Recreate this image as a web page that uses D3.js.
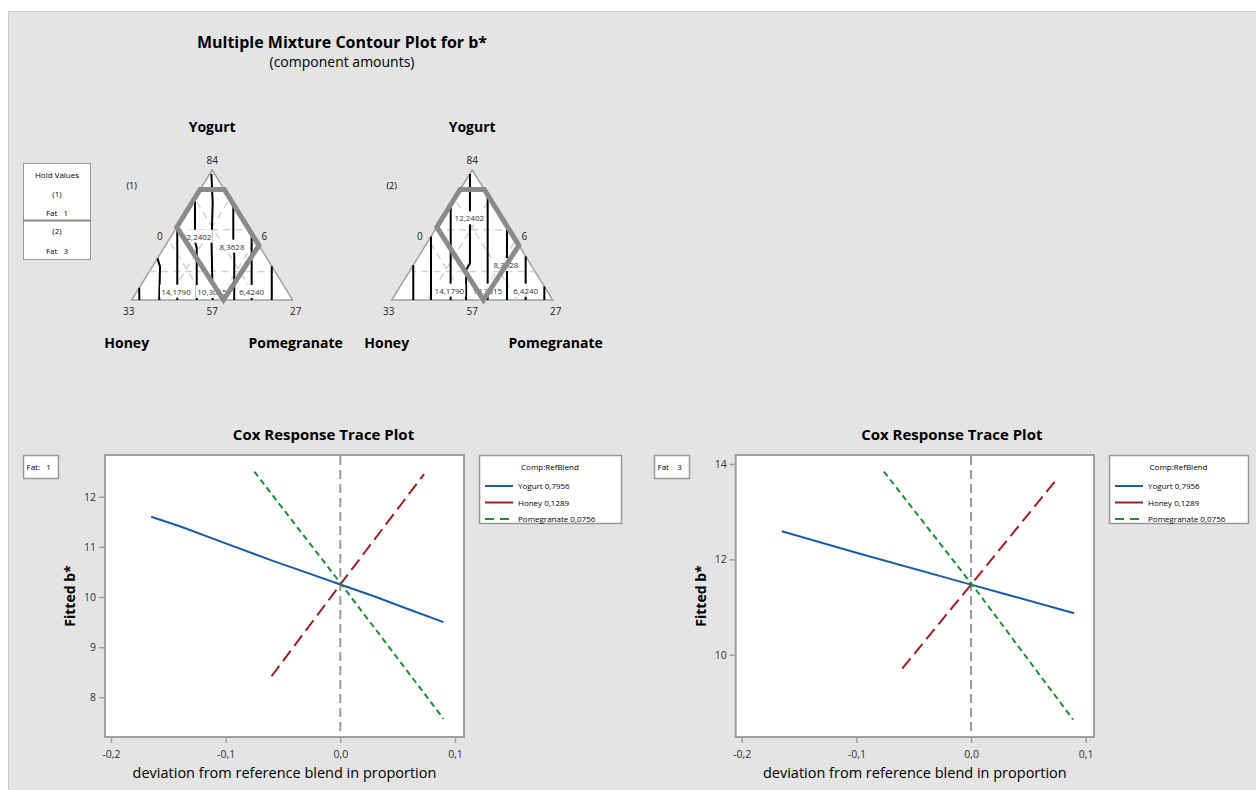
<!DOCTYPE html>
<html>
<head>
<meta charset="utf-8">
<script src="https://cdnjs.cloudflare.com/ajax/libs/d3/7.8.5/d3.min.js"></script>
<style>
  body { margin: 0; background: #fff; }
  svg { display: block; font-family: "Open Sans", "Noto Sans", sans-serif; }
</style>
</head>
<body>
<div id="chart"></div>
<script>
// ---- data ----
var components = ["Yogurt", "Honey", "Pomegranate"];
var refBlend = ["0,7956", "0,1289", "0,0756"];
var fatValues = [1, 3];

// triangle labels (apex, bottom-left, bottom-middle, bottom-right, left-side, right-side)
var triLabels = ["84", "33", "57", "27", "0", "6"];

// feasible region, [Yogurt, Pomegranate] proportions
var region = [[0.85, 0.0], [0.85, 0.15], [0.42, 0.58], [0.0, 0.57], [0.56, 0.0]];

// ternary grid levels
var gridLevels = [0.22, 0.54];

// contour lines, each as [Yogurt, Pomegranate] points
var contours1 = [
  [[0, 0.047], [0.094, 0.0]],
  [[0, 0.171], [0.256, 0.048], [0.32, 0.0]],
  [[0, 0.283], [0.566, 0.0]],
  [[0, 0.404], [0.40, 0.204], [0.45, 0.168], [0.786, 0.0]],
  [[0, 0.503], [0.45, 0.271], [0.75, 0.128], [0.97, 0.01]],
  [[0, 0.637], [0.35, 0.462], [0.40, 0.431], [0.738, 0.262]],
  [[0, 0.745], [0.51, 0.49]],
  [[0, 0.870], [0.26, 0.74]]
];
var contours2 = [
  [[0, 0.134], [0.268, 0.0]],
  [[0, 0.244], [0.488, 0.0]],
  [[0, 0.366], [0.733, 0.0]],
  [[0, 0.462], [0.23, 0.347], [0.282, 0.345], [0.97, 0.001]],
  [[0, 0.596], [0.808, 0.192]],
  [[0, 0.716], [0.568, 0.432]],
  [[0, 0.832], [0.336, 0.664]],
  [[0, 0.948], [0.104, 0.896]]
];
// contour labels: text, Yogurt, Pomegranate
var contourLabels1 = [
  ["14,1790", 0.064, 0.243], ["10,3015", 0.062, 0.468], ["6,4240", 0.062, 0.714],
  ["12,2402", 0.487, 0.160], ["8,3628", 0.41, 0.418]
];
var contourLabels2 = [
  ["12,2402", 0.628, 0.168], ["8,3628", 0.269, 0.575], ["14,1790", 0.072, 0.322],
  ["10,3015", 0.072, 0.558], ["6,4240", 0.072, 0.796]
];

// response trace values [deviation, fitted b*]
var yogurt1 = [[-0.165, 11.6], [-0.14, 11.41], [-0.1, 11.07], [-0.06, 10.73], [-0.03, 10.49], [0, 10.25], [0.03, 10.01], [0.06, 9.75], [0.09, 9.5]];
var honey1 = [[-0.06, 8.42], [0, 10.25], [0.073, 12.45]];
var pomegranate1 = [[-0.075, 12.5], [0, 10.28], [0.09, 7.57]];
var yogurt3 = [[-0.165, 12.59], [-0.1, 12.14], [0, 11.47], [0.09, 10.87]];
var honey3 = [[-0.06, 9.71], [0, 11.47], [0.073, 13.63]];
var pomegranate3 = [[-0.076, 13.84], [0, 11.5], [0.089, 8.64]];

var xTicks = [-0.2, -0.1, 0.0, 0.1];
var yTicks1 = [8, 9, 10, 11, 12];
var yTicks3 = [10, 12, 14];

var colors = ["#1a5aa8", "#a11d21", "#1b8f2e"];
var dashes = [null, "13,6", "6,4"];

// ---- drawing ----
var width = 1256, height = 790;
var svg = d3.select("#chart").append("svg")
    .attr("width", width)
    .attr("height", height);

svg.append("rect")
    .attr("x", 8.5).attr("y", 11.5)
    .attr("width", 1260).attr("height", 790)
    .attr("fill", "#e4e4e4")
    .attr("stroke", "#c8c8c8");

// Minitab style: hyphen minus and decimal comma
var comma = function(v) { return d3.format(".1f")(v).replace(".", ",").replace("\u2212", "-"); };

// titles
svg.append("text")
    .attr("x", 342).attr("y", 48)
    .attr("text-anchor", "middle")
    .style("font-size", "16px").style("font-weight", "bold")
    .text("Multiple Mixture Contour Plot for b*");
svg.append("text")
    .attr("x", 342).attr("y", 67)
    .attr("text-anchor", "middle")
    .style("font-size", "14px")
    .text("(component amounts)");

// hold values box
var hold = svg.append("g");
hold.append("rect")
    .attr("x", 23.5).attr("y", 163.5)
    .attr("width", 67).attr("height", 96)
    .attr("fill", "#fff").attr("stroke", "#999");
hold.append("line")
    .attr("x1", 23.5).attr("x2", 90.5)
    .attr("y1", 220.5).attr("y2", 220.5)
    .attr("stroke", "#888").attr("stroke-width", 2);
var holdText = [["Hold Values", 178], ["(1)", 197], ["Fat   " + fatValues[0], 216], ["(2)", 234], ["Fat   " + fatValues[1], 254]];
hold.selectAll("text").data(holdText).enter().append("text")
    .attr("x", 57).attr("y", function(d) { return d[1]; })
    .attr("text-anchor", "middle")
    .style("font-size", "8px")
    .style("white-space", "pre")
    .attr("xml:space", "preserve")
    .text(function(d) { return d[0]; });

function drawTernary(left, tag, contours, labels) {
  var g = svg.append("g");
  var tw = 161, th = 130, base = 300;
  // horizontal: P + Y/2 across the base, vertical: Y up the height
  var xs = d3.scaleLinear().domain([0, 1]).range([left, left + tw]);
  var ys = d3.scaleLinear().domain([0, 1]).range([base, base - th]);
  var pt = function(Y, P) { return [xs(P + Y / 2), ys(Y)]; };
  var line = d3.line();

  g.append("path")
      .attr("d", line([pt(1, 0), pt(0, 0), pt(0, 1)]) + "Z")
      .attr("fill", "#fff")
      .attr("stroke", "#a0a0a0").attr("stroke-width", 1.5);

  // grid
  gridLevels.forEach(function(v) {
    var segs = [
      [pt(v, 0), pt(v, 1 - v)],              // Yogurt constant
      [pt(0, v), pt(1 - v, v)],              // Pomegranate constant
      [pt(0, 1 - v), pt(1 - v, 0)]           // Honey constant
    ];
    segs.forEach(function(s) {
      g.append("path").attr("d", line(s))
          .attr("stroke", "#d2d2d2").attr("stroke-width", 1.5)
          .attr("stroke-dasharray", "7,5").attr("fill", "none");
    });
  });

  g.selectAll(".contour").data(contours).enter().append("path")
      .attr("class", "contour")
      .attr("d", function(d) { return line(d.map(function(p) { return pt(p[0], p[1]); })); })
      .attr("fill", "none").attr("stroke", "#000").attr("stroke-width", 2);

  var lab = g.selectAll(".clab").data(labels).enter().append("g")
      .attr("transform", function(d) { var p = pt(d[1], d[2]); return "translate(" + p[0] + "," + p[1] + ")"; });
  lab.append("rect")
      .attr("x", -16).attr("y", -7).attr("width", 32).attr("height", 13)
      .attr("fill", "#fff");
  lab.append("text")
      .attr("text-anchor", "middle").attr("dy", 3)
      .style("font-size", "8px").style("fill", "#333")
      .text(function(d) { return d[0]; });

  g.append("path")
      .attr("d", line(region.map(function(p) { return pt(p[0], p[1]); })) + "Z")
      .attr("fill", "none").attr("stroke", "#8a8a8a").attr("stroke-width", 5)
      .attr("stroke-linejoin", "miter");

  // vertex / side labels
  var lp = [
    [xs(0.5), ys(1) - 6],
    [xs(0) - 3, base + 15],
    [xs(0.5), base + 15],
    [xs(1) + 3, base + 15],
    [xs(0.25) - 12, ys(0.5) + 5],
    [xs(0.75) + 12, ys(0.5) + 5]
  ];
  g.selectAll(".tl").data(triLabels).enter().append("text")
      .attr("x", function(d, i) { return lp[i][0]; })
      .attr("y", function(d, i) { return lp[i][1]; })
      .attr("text-anchor", "middle")
      .style("font-size", "10px").style("fill", "#222")
      .text(function(d) { return d; });

  g.append("text").attr("x", xs(0) + 0).attr("y", 189)
      .attr("text-anchor", "middle").style("font-size", "9px")
      .text(tag);

  g.append("text").attr("x", xs(0.5)).attr("y", 132)
      .attr("text-anchor", "middle")
      .style("font-size", "14px").style("font-weight", "bold")
      .text(components[0]);
  g.append("text").attr("x", xs(0) - 5).attr("y", 348)
      .attr("text-anchor", "middle")
      .style("font-size", "14px").style("font-weight", "bold")
      .text(components[1]);
  g.append("text").attr("x", xs(1) + 3).attr("y", 348)
      .attr("text-anchor", "middle")
      .style("font-size", "14px").style("font-weight", "bold")
      .text(components[2]);
}

drawTernary(131.7, "(1)", contours1, contourLabels1);
drawTernary(391.7, "(2)", contours2, contourLabels2);

function drawTrace(o) {
  var g = svg.append("g");
  var xs = d3.scaleLinear().domain([-0.2, 0.1]).range([o.x0, o.x1]);
  var ys = d3.scaleLinear().domain(o.yDom).range(o.yRange);
  var top = 455, bottom = 737;

  g.append("rect")
      .attr("x", o.left).attr("y", top)
      .attr("width", o.right - o.left).attr("height", bottom - top)
      .attr("fill", "#fff").attr("stroke", "#a0a0a0").attr("stroke-width", 2);

  var xAxis = d3.axisBottom(xs).tickValues(xTicks).tickSize(5).tickSizeOuter(0).tickFormat(comma);
  var yAxis = d3.axisLeft(ys).tickValues(o.yTicks).tickSize(5).tickSizeOuter(0).tickFormat(d3.format("d"));

  var ax = g.append("g").attr("transform", "translate(0," + (bottom + 1) + ")").call(xAxis);
  var ay = g.append("g").attr("transform", "translate(" + (o.left - 1) + ",0)").call(yAxis);
  [ax, ay].forEach(function(a) {
    a.select(".domain").remove();
    a.selectAll("line").attr("stroke", "#a0a0a0").attr("stroke-width", 1.5);
    a.selectAll("text").style("font-size", "10.5px").style("fill", "#333")
        .style("font-family", "'Open Sans', sans-serif");
  });
  ax.selectAll("text").attr("dy", "1.15em");

  g.append("line")
      .attr("x1", xs(0)).attr("x2", xs(0))
      .attr("y1", top + 1).attr("y2", bottom - 1)
      .attr("stroke", "#9a9a9a").attr("stroke-width", 2)
      .attr("stroke-dasharray", "9,5");

  var line = d3.line().x(function(d) { return xs(d[0]); }).y(function(d) { return ys(d[1]); });
  o.series.forEach(function(s, i) {
    g.append("path")
        .attr("d", line(s))
        .attr("fill", "none")
        .attr("stroke", colors[i]).attr("stroke-width", 2)
        .attr("stroke-dasharray", dashes[i]);
  });

  g.append("text")
      .attr("x", (o.left + o.right) / 2 + o.titleShift).attr("y", 440)
      .attr("text-anchor", "middle")
      .style("font-size", "15px").style("font-weight", "bold")
      .text("Cox Response Trace Plot");
  g.append("text")
      .attr("x", (o.left + o.right) / 2).attr("y", 778)
      .attr("text-anchor", "middle")
      .style("font-size", "14.5px")
      .text("deviation from reference blend in proportion");
  g.append("text")
      .attr("transform", "translate(" + (o.left - 30) + "," + 596 + ") rotate(-90)")
      .attr("text-anchor", "middle")
      .style("font-size", "14px").style("font-weight", "bold")
      .text("Fitted b*");

  // fat box
  g.append("rect")
      .attr("x", o.fatX).attr("y", 455.5).attr("width", 35).attr("height", 23)
      .attr("fill", "#fff").attr("stroke", "#999").attr("stroke-width", 1.5);
  g.append("text")
      .attr("x", o.fatX + 3).attr("y", 470)
      .attr("xml:space", "preserve")
      .style("font-size", "8px")
      .text(o.fatLabel);

  // legend
  var lg = g.append("g").attr("transform", "translate(" + o.legX + ",455)");
  lg.append("rect")
      .attr("x", 0.5).attr("y", 0.5).attr("width", o.legW).attr("height", 68)
      .attr("fill", "#fff").attr("stroke", "#999").attr("stroke-width", 1.5);
  lg.append("text")
      .attr("x", o.legW / 2).attr("y", 15)
      .attr("text-anchor", "middle")
      .style("font-size", "8px")
      .text("Comp:RefBlend");
  var rows = lg.selectAll(".row").data(components).enter().append("g")
      .attr("transform", function(d, i) { return "translate(0," + (31 + i * 16.5) + ")"; });
  rows.append("line")
      .attr("x1", 6).attr("x2", 34)
      .attr("stroke", function(d, i) { return colors[i]; })
      .attr("stroke-width", 2)
      .attr("stroke-dasharray", function(d, i) { return i === 2 ? "9,6" : null; });
  rows.append("text")
      .attr("x", 39).attr("y", 3)
      .style("font-size", "8px")
      .text(function(d, i) { return d + "  " + refBlend[i]; });
}

drawTrace({
  left: 105, right: 464, x0: 111, x1: 455,
  yDom: [8, 12], yRange: [697.3, 496.7], yTicks: yTicks1,
  series: [yogurt1, honey1, pomegranate1],
  fatX: 23.5, fatLabel: "Fat:   " + fatValues[0],
  legX: 479, legW: 142, titleShift: 39
});
drawTrace({
  left: 735.7, right: 1094, x0: 741.7, x1: 1085.7,
  yDom: [10, 14], yRange: [654.7, 464], yTicks: yTicks3,
  series: [yogurt3, honey3, pomegranate3],
  fatX: 654.5, fatLabel: "Fat    " + fatValues[1],
  legX: 1109, legW: 139, titleShift: 37
});
</script>
</body>
</html>
